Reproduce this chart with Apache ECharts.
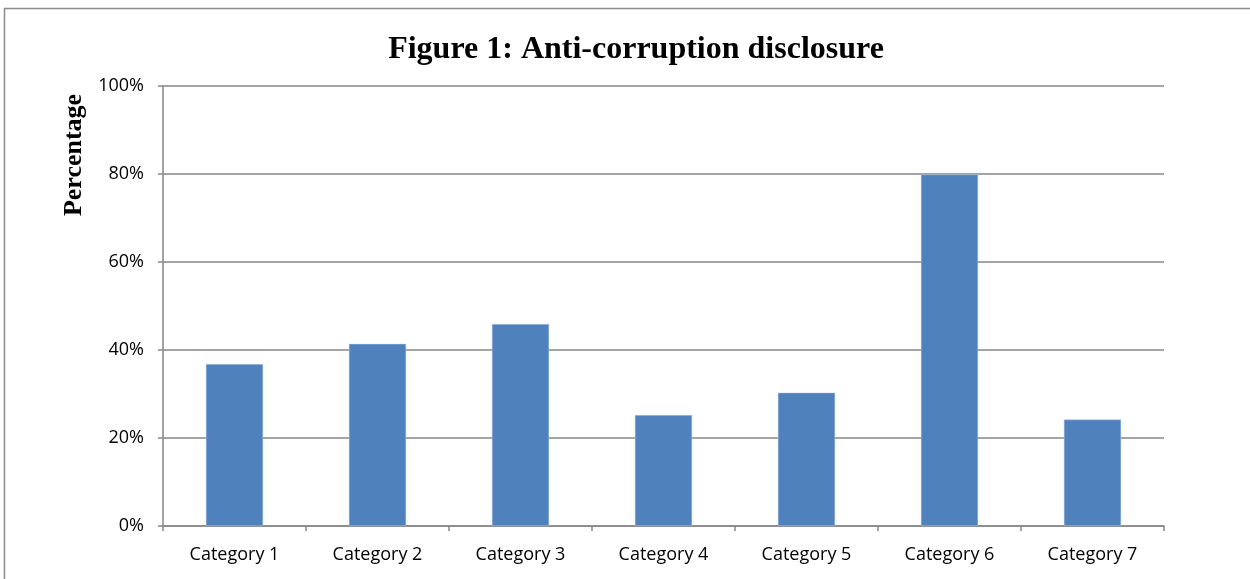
<!DOCTYPE html>
<html><head><meta charset="utf-8">
<script src="https://cdn.jsdelivr.net/npm/echarts@6/dist/echarts.min.js"></script>
<style>html,body{margin:0;padding:0;background:#fff}#c{width:1250px;height:579px}</style>
</head><body><div id="c"></div>
<script>
const categories = ['Category 1','Category 2','Category 3','Category 4','Category 5','Category 6','Category 7'];
const values = [36.8, 41.4, 45.9, 25.2, 30.3, 79.9, 24.2];
const yTicks = [0, 20, 40, 60, 80, 100];
const yTitle = 'Percentage';

const chart = echarts.init(document.getElementById('c'));
chart.setOption({
  animation: false,
  backgroundColor: '#fff',
  title: {
    text: 'Figure 1: Anti-corruption disclosure',
    left: 631, top: 29, textAlign: 'center',
    textStyle: {fontFamily: 'Liberation Serif', fontWeight: 'bold', fontSize: 32, color: '#000'}
  },
  graphic: [{
    type: 'rect', shape: {x: 4.5, y: 8.5, width: 1400, height: 800},
    style: {fill: 'none', stroke: '#8c8c8c', lineWidth: 1.5}, silent: true
  }, {
    type: 'text', x: 74, y: 155, rotation: Math.PI / 2,
    style: {text: yTitle, fontFamily: 'Liberation Serif', fontWeight: 'bold', fontSize: 26,
      fill: '#000', textAlign: 'center', textVerticalAlign: 'middle'}, silent: true
  }],
  grid: {left: 163, right: 86, top: 86, bottom: 53},
  xAxis: {
    type: 'category', data: categories,
    axisLine: {lineStyle: {color: '#868686', width: 1.5}},
    axisTick: {show: true, length: 5, alignWithLabel: false, lineStyle: {color: '#868686', width: 1.5}},
    axisLabel: {fontFamily: 'Open Sans', fontSize: 18, color: '#000', margin: 20}
  },
  yAxis: {
    type: 'value', min: 0, max: 100, interval: 20,
    axisLine: {show: true, lineStyle: {color: '#868686', width: 1.5}},
    axisTick: {show: true, length: 5, lineStyle: {color: '#868686', width: 1.5}},
    axisLabel: {fontFamily: 'Open Sans', fontSize: 18, color: '#000', margin: 19,
      formatter: v => yTicks.includes(v) ? v + '%' : ''},
    splitLine: {lineStyle: {color: '#868686', width: 1.5}}
  },
  series: [{
    type: 'bar', data: values, barWidth: '40%',
    itemStyle: {color: '#4F81BD', borderColor: '#b9cde5', borderWidth: 0.5}
  }]
});
</script></body></html>
